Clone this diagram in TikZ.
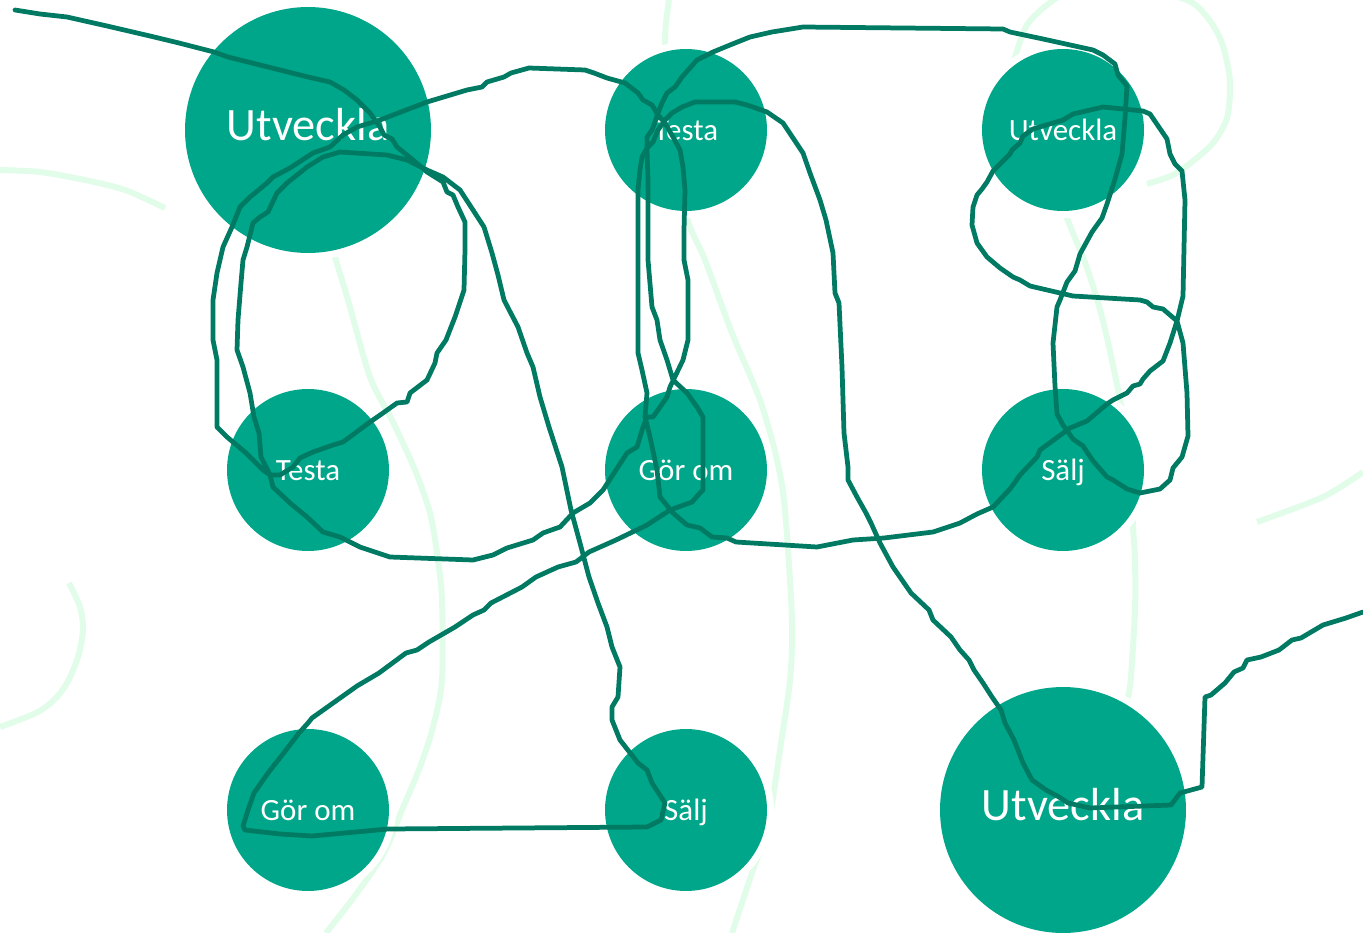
\documentclass[tikz,border=0pt]{standalone}
\usepackage{fontspec}
\setmainfont{Carlito}
\definecolor{stageteal}{RGB}{0,166,137}
\definecolor{scribbleink}{RGB}{0,122,98}
\definecolor{palemint}{RGB}{225,253,233}
\tikzset{
  stage/.style={circle, fill=stageteal, text=white, inner sep=0pt,
    text height=1.25em, text depth=0pt,
    preaction={draw=white, line width=0.28cm}},
  bigstage/.style={stage, minimum size=4.92cm, font=\fontsize{26.4}{30}\selectfont},
  smallstage/.style={stage, minimum size=3.24cm, font=\fontsize{17.6}{20}\selectfont},
  mint/.style={draw=palemint, line width=0.12cm},
  scribble/.style={draw=scribbleink, line width=0.095cm, line join=round, line cap=round},
}
\begin{document}
\begin{tikzpicture}[x=0.02cm, y=-0.02cm]
\clip (0,0) rectangle (1363,933);
\draw[mint] plot[smooth] coordinates {(0,170) (40,172) (85,180) (125,190) (165,208)};
\draw[mint] plot[smooth] coordinates {(669,0) (665,45) (672,130) (687,217) (705,260) (732,333) (760,400) (777,460) (785,510) (792,620) (790,680) (781,743) (768,827) (754,867) (732,933)};
\draw[mint] plot[smooth] coordinates {(330,235) (335,257) (348,300) (370,377) (392,420) (415,470) (430,513) (437,553) (442,600) (442,680) (433,727) (420,767) (402,810) (384,853) (357,893) (326,933)};
\draw[mint] plot[smooth] coordinates {(69,583) (80,607) (83,630) (78,657) (67,683) (54,700) (36,713) (0,727)};
\draw[mint] plot[smooth] coordinates {(1012,70) (1015,57) (1027,25) (1047,5) (1070,-8) (1125,-14) (1187,0) (1210,21) (1223,46) (1230,82) (1227,118) (1213,143) (1193,161) (1173,175) (1147,184)};
\draw[mint] plot[smooth] coordinates {(1063,200) (1067,218) (1087,268) (1103,321) (1120,400) (1130,470) (1133,527) (1135,560) (1135,610) (1131,677) (1128,700) (1122,760)};
\draw[mint] plot[smooth] coordinates {(1257,522) (1323,497) (1363,472)};
\foreach \nm/\at/\txt/\kind in {
  utvA/{308,130}/Utveckla/bigstage,
  testaA/{686,130}/Testa/smallstage,
  utvB/{1063,130}/Utveckla/smallstage,
  testaB/{308,470}/Testa/smallstage,
  gorA/{686,470}/Gör om/smallstage,
  saljA/{1063,470}/Sälj/smallstage,
  gorB/{308,810}/Gör om/smallstage,
  saljB/{686,810}/Sälj/smallstage,
  utvC/{1063,810}/Utveckla/bigstage}
  \node[\kind] (\nm) at (\at) {\txt};
\draw[scribble] plot coordinates {
  (15,10) (40,14) (67,17) (107,26) (150,36) (179,43) (214,52) (228,57) (268,67) (308,77)
  (330,82) (344,90) (357,100) (370,113) (380,127) (384,135) (392,139) (397,147) (413,160)
  (427,172) (443,182) (447,192) (453,195) (458,207) (465,222) (465,250) (464,290) (455,317)
  (446,340) (437,353) (435,363) (427,380) (410,393) (407,402) (397,403) (383,413) (370,422)
  (343,442) (333,445) (313,452) (300,458) (293,467) (280,475) (270,475)
  (263,470) (246,453) (227,437) (217,427) (217,400) (217,360) (213,340) (213,300) (217,273)
  (223,247) (232,227) (240,207) (250,197) (267,183) (273,177) (290,168) (313,153) (330,147)
  (343,135) (357,127) (380,120) (427,102) (467,90) (482,87) (487,82) (504,77) (511,73)
  (529,68) (585,70) (594,73) (607,78) (625,83) (638,93) (643,100) (652,105) (658,115)
  (665,123) (673,137) (680,150) (683,167) (685,190) (684,230) (684,260) (688,280) (688,340)
  (683,360) (670,387) (667,397) (653,417) (647,417) (643,427) (637,447) (627,453) (603,490)
  (590,503) (573,513) (560,527) (557,528) (543,533) (533,540) (507,548) (493,555) (473,560)
  (390,557) (360,547) (340,537) (323,532) (307,517) (290,503) (273,487) (270,475)
  (261,457) (259,433) (254,417) (250,393) (243,367) (237,350) (238,320) (241,283) (243,260)
  (247,247) (253,223) (260,217) (268,212) (277,193) (287,183) (307,167) (323,157) (340,152)
  (387,155) (407,160) (427,170) (443,177) (460,190) (473,210) (484,227) (492,253) (498,275)
  (504,300) (518,327) (527,353) (533,367) (540,397) (549,427) (562,467) (571,510) (580,543)
  (589,577) (598,603) (607,627) (612,647) (620,667) (618,697) (612,707) (612,720) (620,740)
  (638,763) (647,770) (652,783) (665,803) (661,820) (647,827) (388,829) (312,836) (280,834)
  (245,830) (243,826) (248,810) (254,793) (268,773) (286,750) (299,733) (308,723) (312,718)
  (357,686) (379,673) (406,653) (417,650) (429,642) (455,627) (473,615) (484,610) (491,603)
  (522,587) (536,577) (558,567) (576,562) (589,552) (598,548) (616,540) (647,525) (670,510)
  (692,502) (700,493) (703,490) (703,417) (697,407) (687,393) (673,380) (667,360) (660,340)
  (657,320) (652,307) (648,260) (648,223) (648,180) (647,150) (647,137) (652,130) (655,122)
  (658,113) (662,103) (667,93) (675,87) (682,77) (697,60) (713,52) (730,45) (750,37)
  (772,32) (803,27) (1003,29) (1010,32) (1043,39) (1093,50) (1103,55) (1115,64) (1118,75)
  (1127,86) (1125,118) (1122,154) (1115,179) (1107,204) (1102,218) (1092,232) (1080,254)
  (1075,271) (1067,282) (1060,300) (1057,307) (1053,343) (1055,386) (1057,414) (1063,425)
  (1073,439) (1083,446) (1093,461) (1107,477) (1113,480) (1127,489) (1140,493) (1160,489)
  (1170,480) (1173,468) (1182,457) (1188,436) (1187,393) (1183,343) (1177,321) (1163,309)
  (1153,307) (1147,302) (1140,300) (1073,296) (1060,293) (1030,286) (1020,280) (1013,277)
  (1000,268) (987,257) (977,243) (972,225) (973,207) (977,195) (982,189) (987,182) (993,171)
  (1005,159) (1010,154) (1012,150) (1020,143) (1023,136) (1033,129) (1063,120) (1073,114)
  (1103,107) (1143,111) (1150,114) (1167,139) (1170,154) (1175,164) (1182,171) (1185,200)
  (1183,296) (1177,321) (1170,343) (1163,361) (1150,371) (1143,379) (1140,384) (1133,386)
  (1127,393) (1113,400) (1107,404) (1087,421) (1070,428) (1040,450) (1037,457) (1020,475)
  (1010,489) (993,507) (977,514) (960,523) (933,532) (884,538) (853,540) (817,547) (736,542)
  (727,538) (712,537) (700,528) (687,525) (673,513) (660,497) (657,470) (650,437) (645,417)
  (647,393) (642,370) (638,353) (638,320) (638,250) (638,190) (640,170) (642,157) (647,148)
  (653,142) (658,130) (665,120) (672,113) (682,107) (695,102) (735,102) (747,105) (767,112)
  (783,123) (803,153) (810,173) (820,200) (826,220) (833,253) (835,293) (839,303) (842,367)
  (844,433) (848,467) (848,480) (857,497) (866,513) (871,523) (880,543) (893,567) (911,593)
  (929,610) (933,620) (951,637) (960,650) (969,660) (974,670) (983,683) (992,697) (1001,710)
  (1005,723) (1014,740) (1023,763) (1032,780) (1046,790) (1059,797) (1068,803) (1090,808)
  (1171,805) (1180,793) (1202,787) (1205,697) (1211,695) (1225,683) (1234,672) (1243,668)
  (1247,660) (1261,657) (1279,650) (1292,640) (1301,638) (1323,625) (1346,618) (1363,612)};
\end{tikzpicture}
\end{document}
